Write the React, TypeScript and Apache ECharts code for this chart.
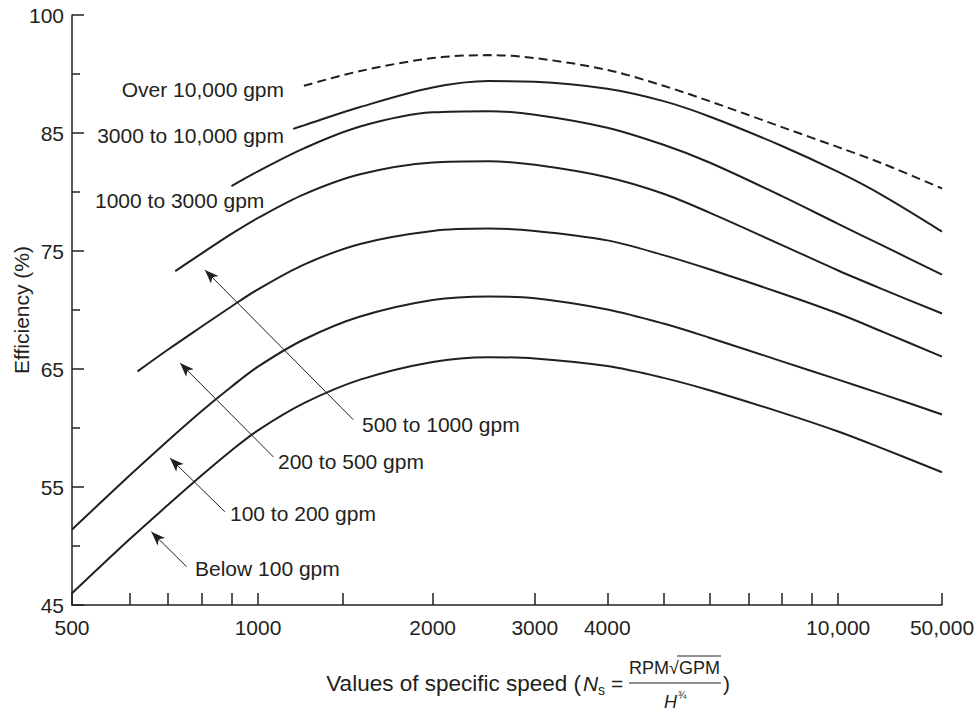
import React, { useEffect, useRef } from 'react';
import * as echarts from 'echarts';

// ---- axis ticks / labels ----
const xTickValues = [500, 600, 700, 800, 900, 1000, 1400, 2000, 3000, 4000, 5000, 6000, 7000, 8000, 9000, 10000, 50000];
const xLabelValues = [500, 1000, 2000, 3000, 4000, 10000, 50000];
const xLabelTexts = ['500', '1000', '2000', '3000', '4000', '10,000', '50,000'];
const yTickValues = [45, 55, 65, 75, 85, 95];
const yTickLabels = ['45', '55', '65', '75', '85', '100'];

// ---- curves: specific speed Ns and efficiency (%) ----
const over10000Ns = [1200, 1500, 2000, 2500, 3000, 4000, 5000, 6000, 8000, 10000, 20000, 50000];
const over10000Eff = [89.0, 90.25, 91.35, 91.6, 91.35, 90.35, 89.0, 87.7, 85.5, 83.8, 82.4, 80.3];

const g3000Ns = [1150, 1200, 1500, 2000, 2500, 3000, 4000, 5000, 6000, 8000, 10000, 20000, 50000];
const g3000Eff = [85.35, 85.65, 87.2, 88.85, 89.4, 89.35, 88.75, 87.7, 86.4, 83.9, 81.7, 79.7, 76.65];

const g1000Ns = [900, 1000, 1200, 1500, 2000, 2500, 3000, 4000, 5000, 6000, 8000, 10000, 20000, 50000];
const g1000Eff = [80.5, 81.75, 83.7, 85.55, 86.75, 86.85, 86.55, 85.45, 84.0, 82.5, 79.65, 77.3, 75.45, 73.0];

const g500Ns = [720, 800, 900, 1000, 1200, 1500, 2000, 2500, 3000, 4000, 5000, 6000, 8000, 10000, 20000, 50000];
const g500Eff = [73.3, 74.8, 76.45, 77.8, 79.8, 81.5, 82.5, 82.6, 82.3, 81.25, 79.85, 78.25, 75.5, 73.35, 71.75, 69.7];

const g200Ns = [620, 700, 800, 900, 1000, 1200, 1500, 2000, 2500, 3000, 4000, 5000, 6000, 8000, 10000, 20000, 50000];
const g200Eff = [64.8, 66.65, 68.6, 70.3, 71.75, 73.85, 75.6, 76.7, 76.9, 76.7, 75.9, 74.65, 73.45, 71.4, 69.7, 68.15, 66.05];

const fullNs = [500, 600, 700, 800, 900, 1000, 1200, 1500, 2000, 2500, 3000, 4000, 5000, 6000, 8000, 10000, 20000, 50000];
const g100Eff = [51.4, 55.95, 58.95, 61.45, 63.5, 65.2, 67.5, 69.45, 70.85, 71.15, 71.0, 70.05, 68.85, 67.65, 65.65, 64.1, 62.85, 61.15];
const below100Eff = [46.0, 50.55, 53.5, 56.0, 58.1, 59.8, 62.1, 64.1, 65.6, 66.0, 65.9, 65.25, 64.25, 63.2, 61.3, 59.7, 58.25, 56.25];

// ---- annotation arrows: [tailNs, tailEff, headNs, headEff] ----
const arrowBelow100 = [753, 48.25, 655, 51.2];
const arrow100 = [877, 52.9, 705, 57.45];
const arrow200 = [1063, 57.55, 734, 65.5];
const arrow500 = [1460, 60.7, 810, 73.4];

// ---- axis geometry (broken log scale) ----
const X_MIN = Math.log10(478);
const X_MAX = Math.log10(15100);
function xPos(ns: number): number {
  const l = Math.log10(ns);
  if (ns >= 10000) return 4 + ((l - 4) / Math.log10(5)) * (X_MAX - 4);
  if (ns <= 600) return X_MIN + ((l - Math.log10(500)) / Math.log10(1.2)) * (Math.log10(600) - X_MIN);
  return l;
}

const INK = '#231f20';
const FONT = '"Liberation Sans", Arial, Helvetica, sans-serif';

function pairs(ns: number[], eff: number[]) {
  return ns.map((n, i) => [xPos(n), eff[i]]);
}

function arrowItem(a: number[]) {
  return [
    { coord: [xPos(a[0]), a[1]], symbol: 'none' },
    { coord: [xPos(a[2]), a[3]], symbol: 'arrow' },
  ];
}

export default function App() {
  const ref = useRef<HTMLDivElement>(null);
  useEffect(() => {
    if (!ref.current) return;
    const chart = echarts.init(ref.current, undefined, { renderer: 'svg' });
    const lineBase = {
      type: 'line',
      showSymbol: false,
      smooth: 0.33,
      silent: true,
      lineStyle: { color: INK, width: 2 },
      emphasis: { disabled: true },
    };
    const labelText = (x: number, y: number, text: string, align = 'left', size = 21) => ({
      type: 'text',
      x,
      y,
      silent: true,
      style: { text, font: `${size}px ${FONT}`, fill: INK, align, verticalAlign: 'middle' },
    });
    chart.setOption({
      animation: false,
      backgroundColor: '#ffffff',
      grid: { left: 72, right: 38, top: 15, bottom: 107, containLabel: false },
      xAxis: {
        type: 'value',
        min: X_MIN,
        max: X_MAX,
        axisLine: { lineStyle: { color: INK, width: 1.5 } },
        axisTick: {
          inside: true,
          length: 12,
          lineStyle: { color: INK, width: 1.5 },
          customValues: xTickValues.map(xPos),
        },
        axisLabel: {
          customValues: xLabelValues.map(xPos),
          formatter: (v: number) => {
            let best = 0;
            xLabelValues.forEach((n, i) => {
              if (Math.abs(xPos(n) - v) < Math.abs(xPos(xLabelValues[best]) - v)) best = i;
            });
            return xLabelTexts[best];
          },
          color: INK,
          fontSize: 21,
          fontFamily: FONT,
          margin: 12,
        },
        splitLine: { show: false },
      },
      yAxis: {
        type: 'value',
        min: 45,
        max: 95,
        interval: 10,
        axisLine: { show: true, lineStyle: { color: INK, width: 1.5 } },
        axisTick: { show: true, inside: true, length: 12, lineStyle: { color: INK, width: 1.5 } },
        minorTick: { show: true, splitNumber: 2, length: 8, lineStyle: { color: INK, width: 1.5 } },
        axisLabel: {
          formatter: (v: number) => {
            const i = yTickValues.indexOf(Math.round(v));
            return i >= 0 ? yTickLabels[i] : '';
          },
          color: INK,
          fontSize: 21,
          fontFamily: FONT,
          margin: 8,
        },
        splitLine: { show: false },
      },
      series: [
        { ...lineBase, name: 'Over 10,000 gpm', data: pairs(over10000Ns, over10000Eff), lineStyle: { color: INK, width: 2, type: [9, 5] } },
        { ...lineBase, name: '3000 to 10,000 gpm', data: pairs(g3000Ns, g3000Eff) },
        { ...lineBase, name: '1000 to 3000 gpm', data: pairs(g1000Ns, g1000Eff) },
        { ...lineBase, name: '500 to 1000 gpm', data: pairs(g500Ns, g500Eff) },
        { ...lineBase, name: '200 to 500 gpm', data: pairs(g200Ns, g200Eff) },
        { ...lineBase, name: '100 to 200 gpm', data: pairs(fullNs, g100Eff) },
        {
          ...lineBase,
          name: 'Below 100 gpm',
          data: pairs(fullNs, below100Eff),
          markLine: {
            silent: true,
            symbol: ['none', 'arrow'],
            symbolSize: [8, 14],
            label: { show: false },
            emphasis: { disabled: true },
            lineStyle: { color: INK, width: 1, type: 'solid' },
            data: [arrowItem(arrowBelow100), arrowItem(arrow100), arrowItem(arrow200), arrowItem(arrow500)],
          },
        },
      ],
      graphic: [
        labelText(284, 89, 'Over 10,000 gpm', 'right'),
        labelText(284, 135, '3000 to 10,000 gpm', 'right'),
        labelText(95, 200, '1000 to 3000 gpm'),
        labelText(362, 424, '500 to 1000 gpm'),
        labelText(278, 461, '200 to 500 gpm'),
        labelText(230, 513, '100 to 200 gpm'),
        labelText(195, 568, 'Below 100 gpm'),
        {
          type: 'text',
          x: 21,
          y: 310,
          rotation: Math.PI / 2,
          silent: true,
          style: { text: 'Efficiency (%)', font: `21px ${FONT}`, fill: INK, align: 'center', verticalAlign: 'middle' },
        },
        labelText(581, 683, 'Values of specific speed (', 'right', 22.5),
        {
          type: 'text', x: 583, y: 683, silent: true,
          style: { text: 'N', font: `italic 21px ${FONT}`, fill: INK, align: 'left', verticalAlign: 'middle' },
        },
        {
          type: 'text', x: 598, y: 690, silent: true,
          style: { text: 's', font: `14px ${FONT}`, fill: INK, align: 'left', verticalAlign: 'middle' },
        },
        labelText(611, 683, '='),
        {
          type: 'text', x: 669, y: 668, silent: true,
          style: { text: 'RPM', font: `18px ${FONT}`, fill: INK, align: 'right', verticalAlign: 'middle' },
        },
        {
          type: 'text', x: 669, y: 668, silent: true,
          style: { text: '√', font: `18px ${FONT}`, fill: INK, align: 'left', verticalAlign: 'middle' },
        },
        {
          type: 'text', x: 679, y: 668, silent: true,
          style: { text: 'GPM', font: `18px ${FONT}`, fill: INK, align: 'left', verticalAlign: 'middle' },
        },
        { type: 'line', silent: true, shape: { x1: 677, y1: 656, x2: 721, y2: 656 }, style: { stroke: INK, lineWidth: 1 } },
        { type: 'line', silent: true, shape: { x1: 629, y1: 683, x2: 721, y2: 683 }, style: { stroke: INK, lineWidth: 1.2 } },
        {
          type: 'text', x: 677, y: 702, silent: true,
          style: { text: 'H', font: `italic 18px ${FONT}`, fill: INK, align: 'right', verticalAlign: 'middle' },
        },
        {
          type: 'text', x: 678, y: 695, silent: true,
          style: { text: '¾', font: `10px ${FONT}`, fill: INK, align: 'left', verticalAlign: 'middle' },
        },
        labelText(723, 683, ')'),
      ],
    });
    return () => chart.dispose();
  }, []);
  return <div ref={ref} style={{ position: 'fixed', left: 0, top: 0, width: 980, height: 712, background: '#fff' }} />;
}
